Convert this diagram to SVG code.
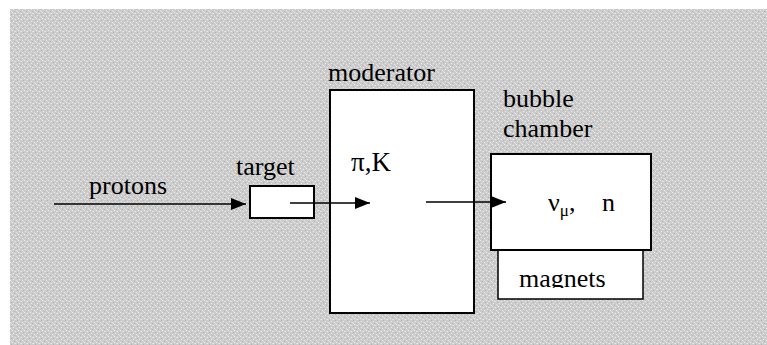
<svg xmlns="http://www.w3.org/2000/svg" width="767" height="345" viewBox="0 0 767 345">
  <style>
    text { font-family: "Liberation Serif", "DejaVu Serif", "Times New Roman", Times, serif; font-size: 26px; fill: #000; }
    .box { fill: #fff; stroke: #000; stroke-width: 2; }
    .ln { stroke: #000; stroke-width: 1.5; fill: none; }
  </style>
  <defs>
    <pattern id="tex" width="6" height="6" patternUnits="userSpaceOnUse">
      <rect width="6" height="6" fill="#cbcbcb"/>
      <rect x="0" y="0" width="1" height="1" fill="#ededed"/>
      <rect x="3" y="1" width="1" height="1" fill="#e8e8e8"/>
      <rect x="1" y="3" width="1" height="1" fill="#eaeaea"/>
      <rect x="4" y="4" width="1" height="1" fill="#e6e6e6"/>
      <rect x="5" y="2" width="1" height="1" fill="#b4b4b4"/>
      <rect x="2" y="5" width="1" height="1" fill="#b6b6b6"/>
      <rect x="2" y="1" width="1" height="1" fill="#dddddd"/>
      <rect x="5" y="5" width="1" height="1" fill="#dfdfdf"/>
    </pattern>
    <marker id="ah" markerWidth="16" markerHeight="12" refX="15" refY="6" orient="auto" markerUnits="userSpaceOnUse">
      <path d="M0,0 L15,6 L0,12 Z" fill="#000"/>
    </marker>
    <clipPath id="magclip">
      <rect x="498" y="250" width="145" height="38"/>
    </clipPath>
  </defs>

  <rect x="0" y="0" width="767" height="345" fill="#fff"/>
  <rect x="10" y="9" width="757" height="336" fill="url(#tex)"/>

  <g id="protons-label">
    <text x="89" y="194">protons</text>
  </g>

  <g id="target">
    <rect class="box" x="250" y="186" width="64" height="32"/>
    <text x="236" y="175">target</text>
  </g>

  <g id="moderator">
    <rect class="box" x="330" y="90" width="144" height="223"/>
    <text x="328" y="81">moderator</text>
    <text x="351" y="171" style="font-size:27px">π,K</text>
  </g>

  <g id="magnets">
    <rect x="498" y="250" width="145" height="49" fill="#fff" stroke="#000" stroke-width="1.5"/>
    <text x="519" y="287" clip-path="url(#magclip)">magnets</text>
  </g>

  <g id="bubble-chamber">
    <rect class="box" x="491" y="154" width="160" height="96"/>
    <text x="503" y="107">bubble</text>
    <text x="503" y="137">chamber</text>
    <text x="548" y="211">ν<tspan style="font-size:17px" dy="5">μ</tspan><tspan dy="-5">,</tspan><tspan x="602">n</tspan></text>
  </g>

  <g id="connectors">
    <line class="ln" x1="54" y1="204" x2="246" y2="204" marker-end="url(#ah)"/>
    <line class="ln" x1="290" y1="203" x2="370" y2="203" marker-end="url(#ah)"/>
    <line class="ln" x1="426" y1="202" x2="506" y2="202" marker-end="url(#ah)"/>
  </g>
</svg>
